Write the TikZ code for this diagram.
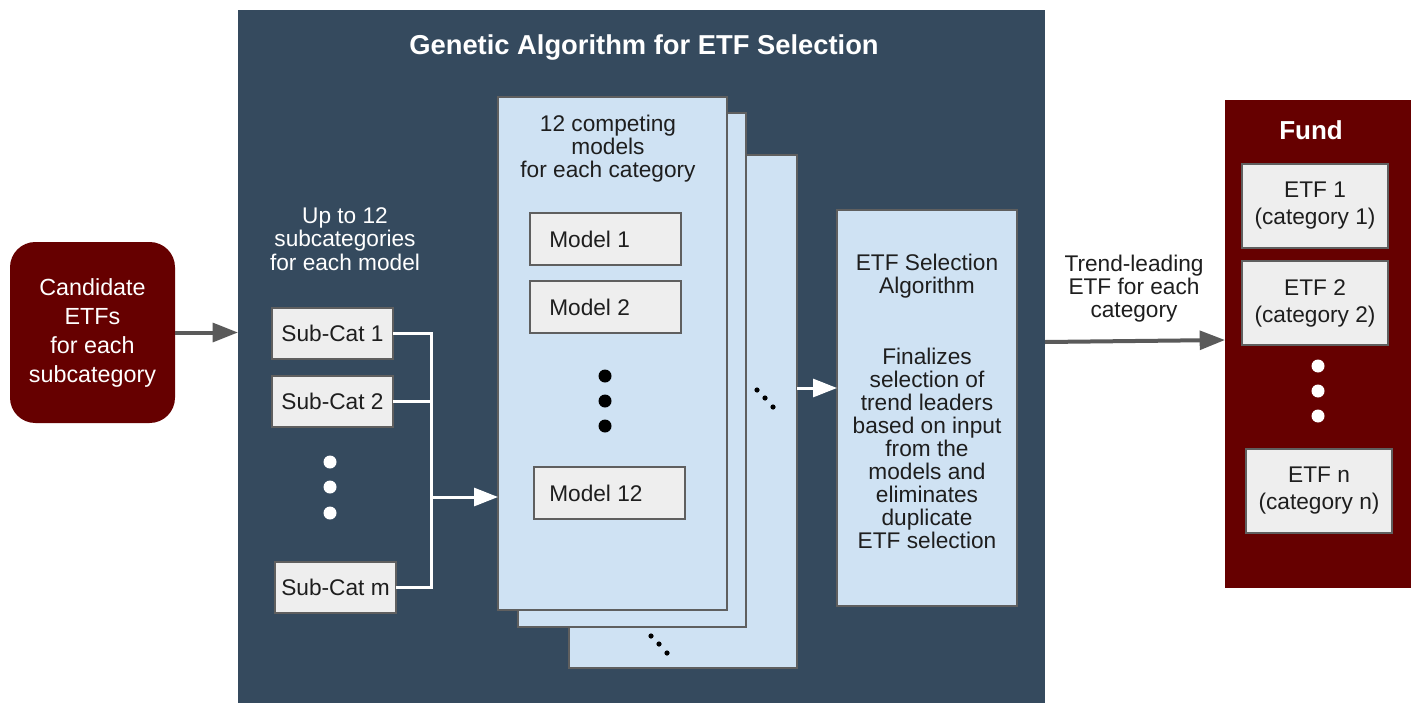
\documentclass[tikz,border=0pt]{standalone}
\usepackage{fontspec}
\setmainfont{Liberation Sans}
\usetikzlibrary{arrows.meta,fit}
\definecolor{navy}{HTML}{354A5E}
\definecolor{maroon}{HTML}{660000}
\definecolor{lblue}{HTML}{CFE2F3}
\definecolor{lgray}{HTML}{EEEEEE}
\definecolor{bord}{HTML}{5F5F5F}
\definecolor{arrgray}{HTML}{5A5A5A}
\definecolor{txt}{HTML}{1E1E1E}
\tikzset{
  region/.style={inner sep=0pt, outer sep=0pt},
  panel/.style={region, fill=lblue, draw=bord, line width=1.4pt},
  gbox/.style={region, fill=lgray, draw=bord, line width=1.4pt},
  wtext/.style={text=white, align=center, font=\fontsize{17}{17.6}\selectfont, inner sep=0pt},
  btext/.style={text=txt, align=center, font=\fontsize{17}{17.25}\selectfont, inner sep=0pt},
  etext/.style={btext, font=\fontsize{17}{20.25}\selectfont},
  garrow/.style={draw=arrgray, line width=3pt, -{Triangle[length=19pt,width=14pt]}},
  wline/.style={draw=white, line width=2.25pt},
  warrow/.style={wline, -{Triangle[length=18pt,width=13.5pt]}},
}
\begin{document}
\begin{tikzpicture}[x=0.75pt,y=-0.75pt]
\useasboundingbox (0,0) rectangle (1416,703);
\fill[white] (0,0) rectangle (1416,703);
% helper coordinates
\coordinate (y388) at (0,388);
\coordinate (y342) at (0,342);
\coordinate (y340) at (0,340);
\coordinate (bus) at (431,497);

% main region
\node[region, fill=navy, fit={(238,10)(1045,703)}] (ga) {};
\node[text=white, font=\bfseries\fontsize{20.5}{24}\selectfont, inner sep=0pt] (title) at (644,47) {Genetic Algorithm for ETF Selection};

% candidate
\node[region, fill=maroon, rounded corners=19pt, fit={(10,242)(175,423)}] (cand) {};
\node[wtext, font=\fontsize{17.5}{21.75}\selectfont] (candt) at (cand.center) {Candidate\\ETFs\\for each\\subcategory};
\draw[garrow] (cand.east) -- (cand.east -| ga.west);

% subcategories
\node[wtext] (up) at (345,239) {Up to 12\\subcategories\\for each model};
\node[gbox, fit={(272,308)(393,359)}] (s1) {};
\node[btext] (s1t) at (s1.center) {Sub-Cat 1};
\node[gbox, fit={(272,376)(393,427)}] (s2) {};
\node[btext] (s2t) at (s2.center) {Sub-Cat 2};
\node[gbox, fit={(275,562)(396,613)}] (sm) {};
\node[btext] (smt) at (sm.center) {Sub-Cat m};
\fill[white] (330,462) circle[radius=6.5];
\fill[white] (330,487) circle[radius=6.5];
\fill[white] (330,513) circle[radius=6.5];

% panels
\node[panel, fit={(569,155)(797,668)}] (p3) {};
\node[panel, fit={(518,113)(746,627)}] (p2) {};
\node[panel, fit={(498,97)(727,610)}] (p1) {};
\node[btext] (ptitle) at (608,149) {12 competing\\models\\for each category};
\node[gbox, fit={(530,213)(681,265)}] (m1) {};
\node[btext, anchor=west] (m1t) at (549,239) {Model 1};
\node[gbox, fit={(530,281)(681,333)}] (m2) {};
\node[btext, anchor=west] (m2t) at (549,307) {Model 2};
\node[gbox, fit={(534,467)(685,519)}] (m12) {};
\node[btext, anchor=west] (m12t) at (549,493) {Model 12};
\fill[black] (605,376) circle[radius=6.5];
\fill[black] (605,401) circle[radius=6.5];
\fill[black] (605,426) circle[radius=6.5];
\fill[black] (757,390) circle[radius=2.6];
\fill[black] (765,398) circle[radius=2.6];
\fill[black] (773,407) circle[radius=2.6];
\fill[black] (651,636) circle[radius=2.6];
\fill[black] (659,644) circle[radius=2.6];
\fill[black] (667,653) circle[radius=2.6];

% bus connectors
\draw[wline] (s1.east) -- (s1.east -| bus) -- (sm.east -| bus) -- (sm.east);
\draw[wline] (s2.east) -- (s2.east -| bus);
\draw[warrow] (bus) -- (bus -| p1.west);

% selection algorithm
\node[panel, fit={(837,210)(1017,606)}] (algo) {};
\node[btext] (algot) at (927,276) {ETF Selection\\Algorithm};
\node[btext] (algod) at (927,448) {Finalizes\\selection of\\trend leaders\\based on input\\from the\\models and\\eliminates\\duplicate\\ETF selection};
\draw[warrow] (p3.east |- y388) -- (algo.west |- y388);

% fund
\node[region, fill=maroon, fit={(1225,100)(1411,588)}] (fund) {};
\node[text=white, font=\bfseries\fontsize{19.5}{20}\selectfont, inner sep=0pt] (fundt) at (1311,130) {Fund};
\node[gbox, fit={(1242,164)(1388,248)}] (e1) {};
\node[etext] (e1t) at (e1.center) {ETF 1\\(category 1)};
\node[gbox, fit={(1242,261)(1388,345)}] (e2) {};
\node[etext] (e2t) at (e2.center) {ETF 2\\(category 2)};
\node[gbox, fit={(1246,449)(1392,533)}] (en) {};
\node[etext] (ent) at (en.center) {ETF n\\(category n)};
\fill[white] (1318,366) circle[radius=6.5];
\fill[white] (1318,391) circle[radius=6.5];
\fill[white] (1318,416) circle[radius=6.5];

\draw[garrow] (ga.east |- y342) -- (fund.west |- y340);
\node[btext] (trend) at (1134,289) {Trend-leading\\ETF for each\\category};
\end{tikzpicture}
\end{document}
